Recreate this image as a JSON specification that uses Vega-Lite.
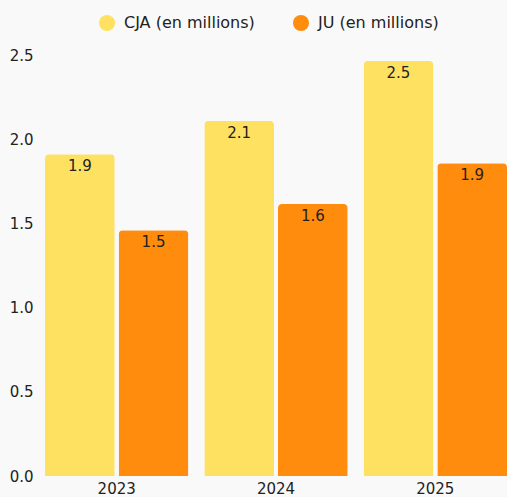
{
  "$schema": "https://vega.github.io/schema/vega-lite/v6.json",
  "width": 462,
  "height": 421,
  "autosize": {"type": "none"},
  "padding": {"left": 45, "top": 55, "right": 0, "bottom": 21},
  "background": "#f9f9f9",
  "config": {
    "view": {"stroke": null},
    "font": "DejaVu Sans",
    "axis": {"labelFont": "DejaVu Sans", "labelColor": "#222222", "labelFontSize": 15, "grid": false, "ticks": false, "domain": false, "title": null},
    "legend": {"labelFont": "DejaVu Sans", "labelColor": "#222222", "labelFontSize": 16}
  },
  "data": {
    "values": [
      {"year": "2023", "series": "CJA (en millions)", "value": 1.91},
      {"year": "2023", "series": "JU (en millions)", "value": 1.46},
      {"year": "2024", "series": "CJA (en millions)", "value": 2.11},
      {"year": "2024", "series": "JU (en millions)", "value": 1.615},
      {"year": "2025", "series": "CJA (en millions)", "value": 2.465},
      {"year": "2025", "series": "JU (en millions)", "value": 1.857}
    ]
  },
  "encoding": {
    "x": {"field": "year", "type": "nominal", "scale": {"paddingInner": 0.1, "paddingOuter": 0}, "axis": {"labelAngle": 0, "labelPadding": 5}},
    "xOffset": {"field": "series", "type": "nominal", "scale": {"paddingInner": 0.054, "paddingOuter": 0}},
    "y": {"field": "value", "type": "quantitative", "scale": {"domain": [0, 2.5]}, "axis": {"values": [0, 0.5, 1, 1.5, 2, 2.5], "format": ".1f", "labelPadding": 12}}
  },
  "layer": [
    {
      "mark": {"type": "bar", "cornerRadiusTopLeft": 4, "cornerRadiusTopRight": 4},
      "encoding": {
        "color": {
          "field": "series", "type": "nominal",
          "scale": {"domain": ["CJA (en millions)", "JU (en millions)"], "range": ["#ffe162", "#ff8c0c"]},
          "legend": {"title": null, "orient": "none", "direction": "horizontal", "legendX": 54, "legendY": -40, "symbolType": "circle", "symbolSize": 256, "symbolOpacity": 1, "symbolStrokeWidth": 0, "columnPadding": 38, "labelOffset": 9}
        }
      }
    },
    {
      "mark": {"type": "text", "baseline": "middle", "dy": 12, "fontSize": 15, "color": "#222222"},
      "encoding": {
        "text": {"field": "value", "type": "quantitative", "format": ".1f"}
      }
    }
  ]
}
